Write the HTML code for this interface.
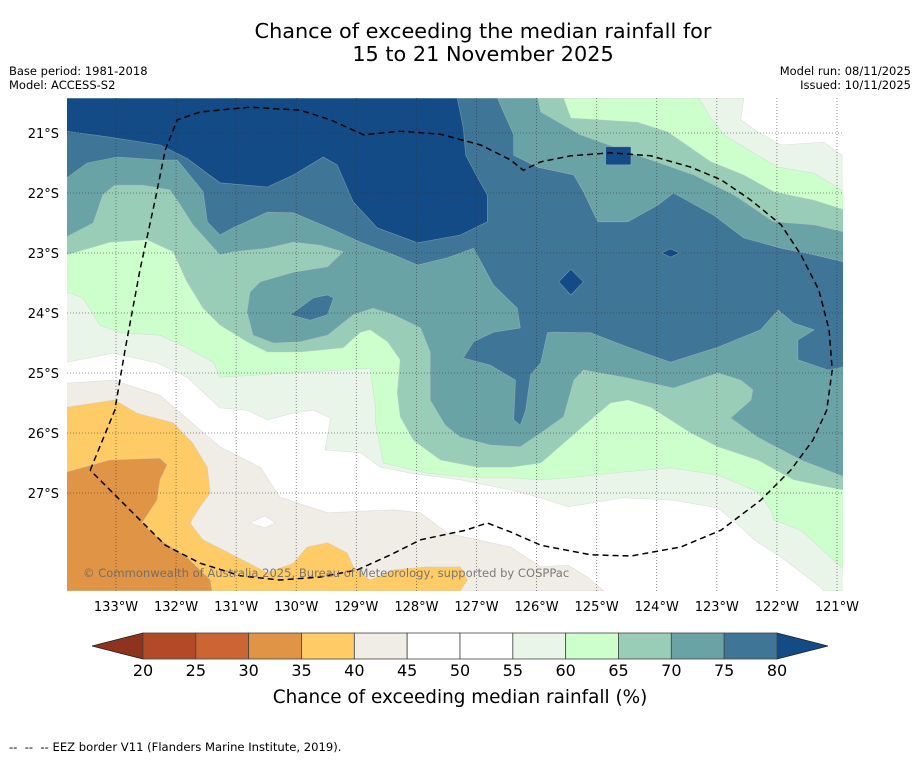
<!DOCTYPE html>
<html><head><meta charset="utf-8">
<style>
html,body{margin:0;padding:0;background:#fff;}
body{width:919px;height:758px;overflow:hidden;font-family:"DejaVu Sans","Liberation Sans",sans-serif;}
svg text{font-family:"DejaVu Sans","Liberation Sans",sans-serif;white-space:pre;}
</style></head>
<body>
<svg id="chart" width="919" height="758" viewBox="0 0 919 758" xmlns="http://www.w3.org/2000/svg">
<text x="483" y="38" font-size="20.8" text-anchor="middle" fill="#000">Chance of exceeding the median rainfall for</text>
<text x="483" y="61" font-size="20.8" text-anchor="middle" fill="#000">15 to 21 November 2025</text>
<text x="9" y="75" font-size="11.5">Base period: 1981-2018</text>
<text x="9" y="89" font-size="11.5">Model: ACCESS-S2</text>
<text x="911" y="75" font-size="11.5" text-anchor="end">Model run: 08/11/2025</text>
<text x="911" y="89" font-size="11.5" text-anchor="end">Issued: 10/11/2025</text>
<defs><clipPath id="mapclip"><rect x="67" y="98" width="776" height="493"/></clipPath></defs>
<g id="map" clip-path="url(#mapclip)"></g>
<g id="grid"></g>
<g id="eez" clip-path="url(#mapclip)"></g>
<text x="83" y="577" font-size="11.55" fill="#666" fill-opacity="0.85">© Commonwealth of Australia 2025, Bureau of Meteorology, supported by COSPPac</text>
<g id="axes"></g>
<g id="cbar"></g>
<text x="460" y="703" font-size="18.4" text-anchor="middle">Chance of exceeding median rainfall (%)</text>
<text x="9" y="751" font-size="11.6" xml:space="preserve">--  --  -- EEZ border V11 (Flanders Marine Institute, 2019).</text>
</svg>
<script>
// ---- data (lon in °W, lat in °S) ----
const lonTicks = [133,132,131,130,129,128,127,126,125,124,123,122,121];
const latTicks = [21,22,23,24,25,26,27];
const cbarLevels = [20,25,30,35,40,45,50,55,60,65,70,75,80];
const cbarColors = ["#b24a27","#cb6634","#e09445","#fecb66","#f0ece6","#ffffff","#ffffff","#eaf5ea","#ccffcc","#9acdb8","#6aa3a6","#3f7697"];
const cbarUnder = "#8f321e";
const cbarOver = "#124b85";

const below45 = [[133.82,25.17],[133.05,25.12],[132.27,25.37],[131.27,26.23],[130.6,26.57],[130.27,27.07],[129.48,27.33],[128.38,27.28],[127.93,27.33],[127.48,27.67],[126.98,27.78],[126.43,27.9],[125.93,28.23],[125.48,28.2],[125.15,28.4],[124.88,28.63],[133.82,28.63]];
const hole45 = [[130.77,27.5],[130.52,27.38],[130.35,27.5],[130.52,27.58]];
const below40 = [[133.82,25.57],[133.02,25.45],[132.65,25.67],[132.05,25.83],[131.72,26.17],[131.48,26.57],[131.43,27.0],[131.6,27.23],[131.77,27.5],[131.55,27.78],[130.98,28.07],[130.48,28.33],[130.05,28.17],[129.82,27.9],[129.48,27.83],[129.15,28.0],[129.05,28.23],[128.77,28.45],[128.38,28.28],[127.82,28.23],[127.27,28.23],[127.15,28.45],[127.27,28.63],[133.82,28.63]];
const below35 = [[133.82,26.65],[133.1,26.45],[132.27,26.42],[132.15,26.53],[132.27,26.78],[132.32,27.12],[132.57,27.5],[132.27,27.78],[131.82,28.07],[131.43,28.45],[131.4,28.63],[133.82,28.63]];
const above55 = [[133.82,24.82],[133.05,24.67],[132.32,24.83],[131.82,25.07],[131.27,25.58],[130.82,25.62],[130.48,25.78],[130.05,25.67],[129.72,25.62],[129.43,25.75],[129.52,26.28],[128.93,26.33],[128.6,26.57],[128.1,26.67],[127.27,26.78],[126.43,26.95],[125.93,27.08],[125.48,27.23],[124.55,27.08],[123.72,27.12],[122.98,27.25],[122.6,27.57],[122.38,27.78],[121.93,28.07],[121.27,28.57],[121.22,28.63],[120.88,28.63],[120.88,21.4],[121.22,21.15],[121.93,21.2],[122.32,20.98],[122.6,20.78],[122.55,20.42],[133.82,20.42]];
const above60 = [[133.82,23.65],[133.55,23.75],[133.27,24.2],[132.93,24.33],[132.27,24.37],[131.82,24.58],[131.38,24.82],[131.27,25.07],[130.05,25.0],[128.77,24.92],[128.68,25.57],[128.68,25.83],[128.55,26.5],[127.82,26.67],[126.98,26.75],[126.43,26.75],[125.93,26.78],[125.48,26.75],[124.55,26.65],[123.77,26.58],[122.98,26.7],[122.32,26.98],[122.1,27.28],[122.05,27.45],[121.6,27.62],[120.88,28.28],[120.88,21.98],[121.38,21.67],[121.98,21.57],[122.32,21.37],[122.88,21.03],[123.1,20.75],[123.3,20.42],[133.82,20.42]];
const above65 = [[133.82,23.03],[133.1,22.82],[132.48,22.78],[132.05,22.98],[131.82,23.48],[131.55,23.92],[131.27,24.2],[130.82,24.48],[130.48,24.65],[129.93,24.65],[129.22,24.58],[128.93,24.32],[128.77,24.28],[128.48,24.48],[128.27,24.78],[128.32,25.33],[128.27,25.73],[128.05,26.12],[127.6,26.45],[126.98,26.57],[126.43,26.57],[125.93,26.5],[125.1,25.78],[124.77,25.5],[124.48,25.45],[124.1,25.57],[123.43,26.0],[122.98,26.23],[122.32,26.45],[121.72,26.78],[121.15,26.9],[120.88,26.95],[120.88,22.28],[121.38,22.12],[122.05,21.98],[122.55,21.7],[123.1,21.48],[123.82,20.98],[124.32,20.82],[125.43,20.75],[125.55,20.42],[133.82,20.42]];
const above70 = [[133.82,22.73],[133.38,22.5],[133.22,22.03],[133.02,21.87],[132.55,21.87],[132.1,21.95],[131.93,22.2],[131.72,22.53],[131.27,23.03],[131.05,22.98],[130.48,22.92],[130.05,22.82],[129.6,22.87],[129.22,22.98],[129.48,23.23],[130.05,23.32],[130.6,23.48],[130.77,23.65],[130.82,23.98],[130.72,24.37],[130.38,24.5],[129.93,24.48],[129.48,24.37],[129.05,24.03],[128.72,23.92],[128.38,24.03],[127.93,24.25],[127.77,24.65],[127.77,24.98],[127.77,25.45],[127.52,25.87],[127.27,26.07],[126.77,26.2],[126.27,26.23],[125.93,26.0],[125.55,25.73],[125.38,25.12],[125.22,24.95],[124.55,25.07],[123.72,25.25],[122.98,25.0],[122.6,25.12],[122.4,25.28],[122.43,25.45],[122.77,25.75],[122.32,26.07],[121.6,26.45],[120.88,26.73],[120.88,22.65],[121.38,22.53],[122.05,22.48],[122.72,22.03],[123.38,21.7],[124.32,21.37],[125.27,21.03],[125.93,20.65],[125.98,20.42],[133.82,20.42]];
const hole70 = [[126.32,22.48],[126.12,22.37],[125.98,22.58],[126.27,22.6]];
const above75 = [[126.65,20.42],[126.55,20.65],[126.38,21.03],[126.38,21.37],[125.98,21.57],[125.38,21.7],[125.22,21.98],[124.98,22.48],[124.48,22.48],[123.98,22.2],[123.72,22.0],[123.05,22.37],[122.55,22.75],[121.93,22.92],[121.38,23.03],[120.88,23.15],[120.88,24.9],[121.15,24.95],[121.65,24.78],[121.65,24.45],[121.38,24.28],[121.72,24.17],[121.98,23.95],[122.27,24.28],[122.98,24.57],[123.77,24.82],[124.48,24.57],[125.1,24.33],[125.72,24.32],[125.82,24.33],[125.93,24.83],[126.1,25.03],[126.18,25.62],[126.27,25.87],[126.38,25.78],[126.35,25.12],[126.77,24.87],[127.22,24.75],[127.05,24.48],[126.72,24.32],[126.27,24.25],[126.32,23.92],[126.72,23.53],[127.05,22.92],[127.48,23.08],[127.98,23.2],[128.38,23.03],[128.93,22.82],[129.48,22.57],[130.05,22.33],[130.48,22.32],[131.05,22.58],[131.27,22.7],[131.48,22.48],[131.55,21.98],[131.98,21.45],[132.27,21.45],[132.98,21.4],[133.48,21.5],[133.82,21.75],[133.82,20.42]];
const island75 = [[130.1,24.03],[129.72,23.75],[129.48,23.7],[129.38,23.75],[129.48,24.03],[129.77,24.12]];
const above80 = [[133.82,20.97],[133.1,21.07],[132.27,21.2],[131.82,21.42],[131.27,21.83],[130.48,21.9],[130.05,21.7],[129.55,21.4],[129.32,21.53],[129.05,22.15],[128.65,22.58],[127.98,22.83],[127.27,22.7],[126.82,22.48],[126.82,22.03],[126.98,21.75],[127.18,21.37],[127.22,20.92],[127.32,20.42],[133.82,20.42]];
const blob80a = [[124.85,21.23],[124.43,21.23],[124.43,21.53],[124.85,21.53]];
const blob80b = [[125.63,23.48],[125.43,23.27],[125.22,23.48],[125.43,23.7]];
const blob80c = [[123.92,23.0],[123.77,22.93],[123.62,23.0],[123.77,23.07]];
const eezLine = [[133.43,26.62],[133.02,25.62],[132.85,24.62],[132.6,23.28],[132.35,22.12],[132.18,21.28],[131.98,20.78],[131.6,20.65],[130.77,20.57],[129.93,20.62],[129.43,20.78],[128.88,21.03],[128.27,20.97],[127.6,21.02],[126.93,21.2],[126.43,21.45],[126.22,21.62],[125.93,21.48],[125.43,21.38],[124.77,21.33],[124.1,21.38],[123.43,21.57],[122.93,21.78],[122.43,22.12],[121.93,22.53],[121.6,23.03],[121.3,23.62],[121.13,24.28],[121.08,24.95],[121.17,25.62],[121.4,26.12],[121.77,26.62],[122.27,27.12],[122.93,27.62],[123.6,27.9],[124.43,28.05],[125.1,28.03],[125.93,27.87],[126.43,27.65],[126.82,27.5],[127.18,27.62],[127.93,27.78],[128.43,28.03],[128.98,28.28],[129.6,28.4],[130.27,28.45],[130.93,28.38],[131.6,28.17],[132.18,27.87],[132.68,27.37],[133.1,26.95],[133.43,26.62]];

// ---- projection ----
const X0 = 116, PXDEG = 60.08, Y0 = 133;
function xScale(lonW){ return X0 + (133 - lonW) * PXDEG; }
function yScale(latS){ return Y0 + (latS - 21) * 60; }
const NS = "http://www.w3.org/2000/svg";
function mk(tag, attrs, parent){ const e = document.createElementNS(NS, tag); for (const k in attrs) e.setAttribute(k, attrs[k]); parent.appendChild(e); return e; }
function pts(arr){ return arr.map(p => xScale(p[0]).toFixed(1) + "," + yScale(p[1]).toFixed(1)).join(" "); }

const map = document.getElementById("map");
const bg = mk("rect", {x:67, y:98, width:776, height:493, fill:"#ffffff"}, map);


const layers = [
  ["band-above-55", above55, cbarColors[7]],
  ["band-above-60", above60, cbarColors[8]],
  ["band-above-65", above65, cbarColors[9]],
  ["band-above-70", above70, cbarColors[10]],
  ["band-70-island", hole70, cbarColors[10]],
  ["band-above-75", above75, cbarColors[11]],
  ["band-75-island", island75, cbarColors[11]],
  ["band-above-80", above80, cbarOver],
  ["band-80-blob-a", blob80a, cbarOver],
  ["band-80-blob-b", blob80b, cbarOver],
  ["band-80-blob-c", blob80c, cbarOver],
  ["band-below-45", below45, cbarColors[4]],
  ["band-45-hole", hole45, "#ffffff"],
  ["band-below-40", below40, cbarColors[3]],
  ["band-below-35", below35, cbarColors[2]]
];
layers.forEach(l => {
  const p = mk("polygon", {points: pts(l[1]), fill: l[2], stroke: "#c8c8c8", "stroke-width": 0.6, "stroke-opacity": 0.5}, map);
  
  
});

// graticule
const grid = document.getElementById("grid");
lonTicks.forEach(t => {
  const ln = mk("line", {x1:xScale(t), x2:xScale(t), y1:98, y2:591, stroke:"#333", "stroke-width":0.8, "stroke-dasharray":"1,2", "stroke-opacity":0.7}, grid);
  
  
});
latTicks.forEach(t => {
  const ln = mk("line", {x1:67, x2:843, y1:yScale(t), y2:yScale(t), stroke:"#333", "stroke-width":0.8, "stroke-dasharray":"1,2", "stroke-opacity":0.7}, grid);
  
  
});

// EEZ
const eez = mk("polyline", {points: pts(eezLine), fill:"none", stroke:"#000", "stroke-width":1.5, "stroke-dasharray":"6,4"}, document.getElementById("eez"));



// axis labels
const axes = document.getElementById("axes");
lonTicks.forEach(t => {
  const tx = mk("text", {x:xScale(t), y:611, "font-size":13, "text-anchor":"middle"}, axes);
  tx.textContent = t + "°W";
  
  
});
latTicks.forEach(t => {
  const tx = mk("text", {x:59, y:yScale(t)+5, "font-size":13, "text-anchor":"end"}, axes);
  tx.textContent = t + "°S";
  
  
});

// colorbar
const cbar = document.getElementById("cbar");
const CB0 = 143, CB1 = 777, CBY = 633, CBH = 26;
function cbX(v){ return CB0 + (v - cbarLevels[0]) / (cbarLevels[cbarLevels.length-1] - cbarLevels[0]) * (CB1 - CB0); }
const under = mk("polygon", {points: `92,${CBY+CBH/2} ${CB0},${CBY} ${CB0},${CBY+CBH}`, fill:cbarUnder, stroke:"#222", "stroke-width":0.8}, cbar);


const over = mk("polygon", {points: `828,${CBY+CBH/2} ${CB1},${CBY} ${CB1},${CBY+CBH}`, fill:cbarOver, stroke:"#222", "stroke-width":0.8}, cbar);


cbarColors.forEach((c, i) => {
  const r = mk("rect", {x:cbX(cbarLevels[i]), y:CBY, width:cbX(cbarLevels[i+1]) - cbX(cbarLevels[i]), height:CBH, fill:c, stroke:"#444", "stroke-width":0.8}, cbar);
  
  
});
cbarLevels.forEach(v => {
  const tx = mk("text", {x:cbX(v), y:676, "font-size":16, "text-anchor":"middle"}, cbar);
  tx.textContent = v;
  
  
});
</script>
</body></html>
